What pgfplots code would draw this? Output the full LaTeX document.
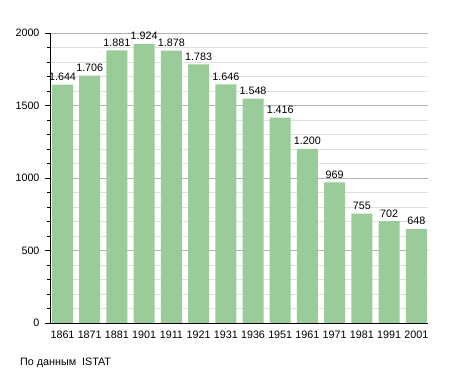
\documentclass[border=0pt]{standalone}
\usepackage{pgfplots}
\pgfplotsset{compat=1.18}
\usepackage{pgfplotstable}
\usepackage{fontspec}
\setmainfont{Liberation Sans}
\definecolor{bargreen}{RGB}{153,204,153}
\pgfplotstableread{
x y lab
0 1644 1.644
1 1706 1.706
2 1881 1.881
3 1924 1.924
4 1878 1.878
5 1783 1.783
6 1646 1.646
7 1548 1.548
8 1416 1.416
9 1200 1.200
10 969 969
11 755 755
12 702 702
13 648 648
}\datatable
\begin{document}
\begin{tikzpicture}
\path[use as bounding box] (0,0) rectangle (455bp,373bp);
\begin{axis}[
  at={(50bp,50bp)}, anchor=south west,
  scale only axis, width=378bp, height=290bp,
  xmin=-0.46, xmax=13.43, ymin=0, ymax=2000,
  axis x line*=bottom, axis y line*=left,
  axis line style={black, line width=0.8pt, -},
  xtick=data,
  xticklabels={1861,1871,1881,1901,1911,1921,1931,1936,1951,1961,1971,1981,1991,2001},
  xtick style={draw=none},
  ytick={0,500,1000,1500,2000},
  minor ytick={100,200,...,1900},
  tick align=outside,
  major tick length=5bp, minor tick length=3bp,
  ytick style={black, line width=0.6pt},
  ymajorgrids, yminorgrids,
  major grid style={gray!60, line width=0.6pt},
  minor grid style={gray!25, line width=0.6pt},
  /pgf/number format/assume math mode=true,
  /pgf/number format/set thousands separator={},
  tick label style={font=\fontsize{10.8}{12}\selectfont},
  xticklabel style={yshift=1bp},
  yticklabel style={xshift=-2bp},
  ybar, bar width=21bp,
  nodes near coords,
  point meta=explicit symbolic,
  every node near coord/.append style={font=\fontsize{10.8}{12}\selectfont, yshift=0.5bp},
]
\addplot[fill=bargreen, draw=none] table[x=x, y=y, meta=lab] {\datatable};
\end{axis}
\node[anchor=base west, font=\fontsize{10.8}{12}\selectfont, inner sep=0pt] at (20bp,8bp) {По данным\ \ ISTAT};
\end{tikzpicture}
\end{document}
